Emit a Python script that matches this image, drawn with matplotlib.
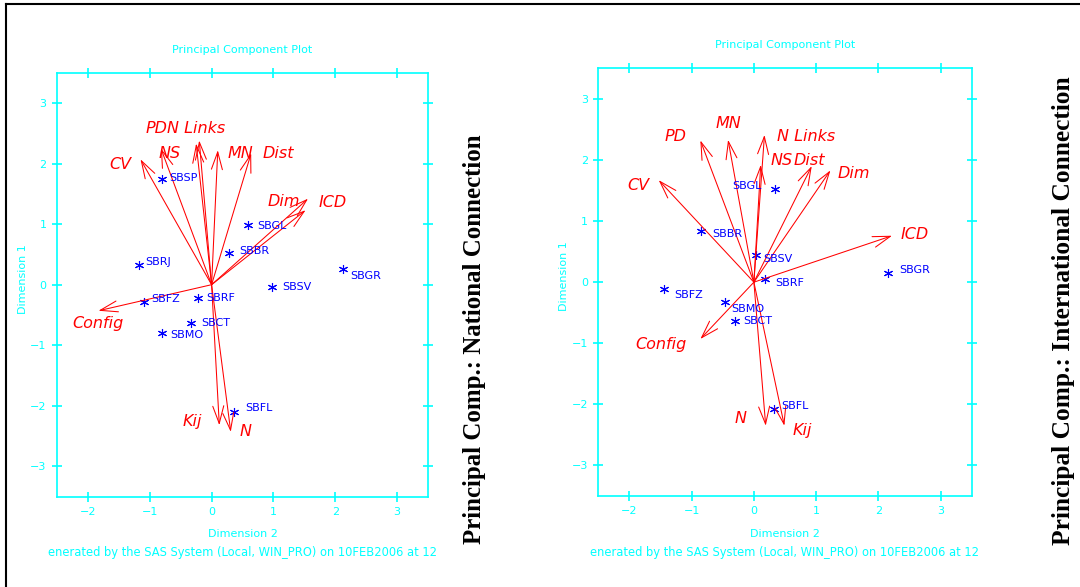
import matplotlib
matplotlib.use("Agg")
import matplotlib.pyplot as plt
from matplotlib.lines import Line2D

# ---------------------------------------------------------------
# Data: principal component scores (airports) and loadings (vars)
# ---------------------------------------------------------------
airports_nat = ["SBSP", "SBGL", "SBBR", "SBRJ", "SBGR", "SBSV",
                "SBFZ", "SBRF", "SBCT", "SBMO", "SBFL"]
dim2_nat = [-0.80, 0.59, 0.28, -1.18, 2.12, 0.98, -1.10, -0.22, -0.33, -0.81, 0.36]
dim1_nat = [1.75, 0.99, 0.53, 0.32, 0.26, -0.03, -0.29, -0.22, -0.63, -0.79, -2.10]

vars_nat = ["CV", "NS", "PD", "N Links", "MN", "Dist", "Dim", "ICD",
            "Config", "Kij", "N"]
load2_nat = [-1.15, -0.82, -0.25, -0.20, 0.10, 0.64, 1.56, 1.52, -1.83, 0.125, 0.31]
load1_nat = [2.07, 2.25, 2.33, 2.38, 2.22, 2.17, 1.42, 1.23, -0.43, -2.32, -2.43]

airports_int = ["SBGL", "SBBR", "SBSV", "SBGR", "SBRF", "SBFZ",
                "SBMO", "SBCT", "SBFL"]
dim2_int = [0.34, -0.845, 0.03, 2.16, 0.18, -1.45, -0.47, -0.31, 0.33]
dim1_int = [1.52, 0.84, 0.45, 0.15, 0.05, -0.115, -0.32, -0.63, -2.08]

vars_int = ["CV", "PD", "MN", "N Links", "NS", "Dist", "Dim", "ICD",
            "Config", "N", "Kij"]
load2_int = [-1.53, -0.86, -0.415, 0.17, 0.11, 0.93, 1.23, 2.22, -0.86, 0.19, 0.49]
load1_int = [1.67, 2.32, 2.33, 2.41, 1.92, 1.90, 1.83, 0.76, -0.93, -2.35, -2.35]

xticks = [-2, -1, 0, 1, 2, 3]
yticks = [-3, -2, -1, 0, 1, 2, 3]

# label placement (pixel offsets), like the SAS output
pt_off_nat = {"SBSP": (7, 1), "SBGL": (9, -1), "SBBR": (10, 2), "SBRJ": (7, 3),
              "SBGR": (8, -7), "SBSV": (10, 0), "SBFZ": (8, 3), "SBRF": (8, 0),
              "SBCT": (10, 0), "SBMO": (9, -2), "SBFL": (11, 4)}
pt_off_int = {"SBGL": (-13, 3), "SBBR": (11, -3), "SBSV": (7, -4), "SBGR": (11, 3),
              "SBRF": (10, -4), "SBFZ": (11, -6), "SBMO": (7, -7), "SBCT": (9, 0),
              "SBFL": (7, 3)}
var_off_nat = {"CV": (-20, -5), "NS": (9, -5), "PD": (-40, 15), "N Links": (-3, 12),
               "MN": (23, -3), "Dist": (27, 0), "Dim": (-24, -3), "ICD": (27, 8),
               "Config": (0, -13), "Kij": (-27, 4), "N": (15, 0)}
var_off_int = {"CV": (-20, -5), "PD": (-25, 4), "MN": (0, 16), "N Links": (42, -2),
               "NS": (21, 4), "Dist": (-2, 6), "Dim": (23, -3), "ICD": (23, 1),
               "Config": (-39, -6), "N": (-25, 7), "Kij": (18, -5)}

CYAN = "#00ffff"
RED = "#ff0000"
BLUE = "#0000ff"

plt.rcParams['font.family'] = ['DejaVu Sans']
plt.rcParams['axes.unicode_minus'] = True


def draw_panel(ax, names, xs, ys, pt_off, vnames, lx, ly, var_off):
    ax.set_xlim(-2.5, 3.5)
    ax.set_ylim(-3.5, 3.5)
    for s in ax.spines.values():
        s.set_color(CYAN)
        s.set_linewidth(1.2)
    ax.set_xticks(xticks)
    ax.set_yticks(yticks)
    ax.tick_params(direction='inout', length=7, width=1.2, color=CYAN,
                   labelcolor=CYAN, labelsize=8, top=True, right=True)
    ax.tick_params(axis='x', pad=4)
    ax.tick_params(axis='y', pad=4)

    # loadings as arrows from the origin
    for v, x, y in zip(vnames, lx, ly):
        ax.annotate("", xy=(x, y), xytext=(0, 0),
                    arrowprops=dict(arrowstyle="->,head_length=0.7,head_width=0.22",
                                    color=RED, lw=0.75, shrinkA=0, shrinkB=0,
                                    mutation_scale=18))
        ax.annotate(v, xy=(x, y), xytext=var_off[v], textcoords='offset pixels',
                    ha='center', va='center', color=RED, style='italic',
                    fontsize=11.5)

    # scores
    ax.plot(xs, ys, linestyle='none', marker=(6, 2, 0), markersize=6.5,
            markeredgewidth=0.8, color=BLUE, markeredgecolor=BLUE)
    for n, x, y in zip(names, xs, ys):
        dx, dy = pt_off[n]
        ax.annotate(n, xy=(x, y), xytext=(dx, dy), textcoords='offset pixels',
                    ha='left' if dx > 0 else 'right', va='center',
                    color=BLUE, fontsize=8)

    ax.text(0.5, 1.054, "Principal Component Plot", transform=ax.transAxes,
            ha='center', va='center', color=CYAN, fontsize=8)
    ax.text(0.5, -0.089, "Dimension 2", transform=ax.transAxes,
            ha='center', va='center', color=CYAN, fontsize=8)
    ax.text(-0.092, 0.513, "Dimension 1", transform=ax.transAxes, rotation=90,
            ha='center', va='center', color=CYAN, fontsize=8)
    ax.text(0.5, -0.131,
            "enerated by the SAS System (Local, WIN_PRO) on 10FEB2006 at 12",
            transform=ax.transAxes, ha='center', va='center', color=CYAN,
            fontsize=8.3)


fig = plt.figure(figsize=(10.8, 5.87), dpi=100)
fig.patch.set_facecolor('white')

ax1 = fig.add_axes([0.0528, 0.1538, 0.3435, 0.7224])
draw_panel(ax1, airports_nat, dim2_nat, dim1_nat, pt_off_nat,
           vars_nat, load2_nat, load1_nat, var_off_nat)

ax2 = fig.add_axes([0.554, 0.155, 0.3457, 0.7286])
draw_panel(ax2, airports_int, dim2_int, dim1_int, pt_off_int,
           vars_int, load2_int, load1_int, var_off_int)

fig.text(0.4389, 0.4225, "Principal Comp.: National Connection", rotation=90,
         ha='center', va='center', family='Liberation Serif', weight='bold',
         fontsize=17.9)
fig.text(0.9843, 0.4702, "Principal Comp.: International Connection", rotation=90,
         ha='center', va='center', family='Liberation Serif', weight='bold',
         fontsize=18.3)

# page frame (top and left edges)
fig.add_artist(Line2D([6 / 1080, 1], [1 - 4 / 587, 1 - 4 / 587],
                      transform=fig.transFigure, color='black', lw=1.5))
fig.add_artist(Line2D([6 / 1080, 6 / 1080], [0, 1 - 4 / 587],
                      transform=fig.transFigure, color='black', lw=1.5))

fig.savefig("out.png", dpi=100)
